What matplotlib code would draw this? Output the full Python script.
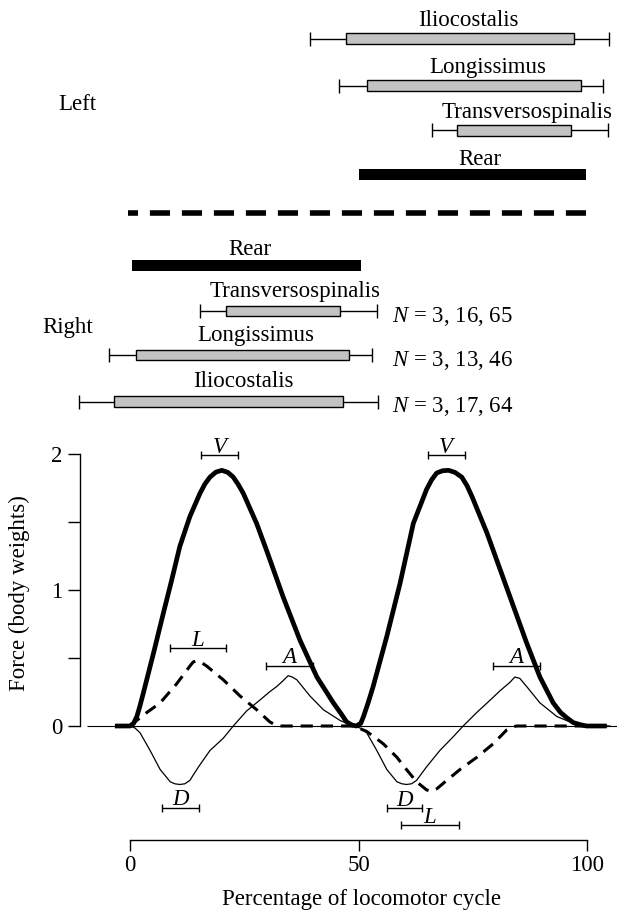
import matplotlib
matplotlib.use("Agg")
import matplotlib.pyplot as plt
import numpy as np

plt.rcParams['font.family'] = ['Liberation Serif', 'DejaVu Serif']
plt.rcParams['mathtext.fontset'] = 'custom'
plt.rcParams['mathtext.rm'] = 'Liberation Serif'
plt.rcParams['mathtext.it'] = 'Liberation Serif:italic'

FS = 16.5

# ---------------- data: force traces (percentage of cycle, body weights) ----
v_pct = [-3.3, 0, 0.8, 1.5, 2.2, 2.9, 5.1, 7.3, 9.1, 10.9, 13.1, 15.3, 16.4, 17.5, 18.8,
         20.1, 21.4, 22.6, 23.7, 24.8, 27.7, 29.9, 33.5, 37.2, 40.9, 44.5, 46.2, 47.4,
         48.5, 49.5, 50.5, 51.1, 52.1, 53.2, 56.2, 59.1, 62.0, 64.9, 66.0, 67.1, 68.4,
         69.7, 71.1, 72.6, 73.7, 74.8, 78.1, 81.0, 83.9, 86.8, 89.7, 92.6, 94.2, 95.6,
         97.0, 98.5, 99.9, 104.3]
v_force = [0, 0, 0.02, 0.07, 0.15, 0.24, 0.53, 0.83, 1.07, 1.32, 1.54, 1.71, 1.78, 1.83,
           1.867, 1.88, 1.865, 1.83, 1.775, 1.71, 1.49, 1.29, 0.95, 0.63, 0.36, 0.17,
           0.09, 0.03, 0.008, 0.0, 0.02, 0.07, 0.17, 0.29, 0.66, 1.05, 1.49, 1.74, 1.81,
           1.86, 1.877, 1.88, 1.865, 1.83, 1.77, 1.69, 1.42, 1.15, 0.88, 0.61, 0.36,
           0.17, 0.1, 0.06, 0.025, 0.01, 0, 0]

l_pct = [0, 2.9, 6.6, 10.2, 13.1, 13.8, 14.6, 15.5, 16.8, 20.4, 24.1, 27.7, 30.6, 31.8,
         32.8, 48.9, 51.8, 55.4, 58.4, 60.5, 62.7, 64.9, 66.0, 67.2, 68.6, 72.2, 75.9,
         79.5, 82.4, 83.6, 84.6, 105]
l_force = [0, 0.08, 0.17, 0.31, 0.44, 0.47, 0.48, 0.47, 0.44, 0.34, 0.22, 0.12, 0.03,
           0.008, 0, 0, -0.04, -0.13, -0.23, -0.32, -0.41, -0.47, -0.48, -0.46, -0.42,
           -0.32, -0.23, -0.13, -0.03, -0.008, 0, 0]

a_pct = [0, 1.1, 2.2, 4.4, 6.6, 8.8, 9.8, 10.9, 12.0, 13.1, 15.0, 17.5, 20.4, 22.6, 25.5,
         28.4, 30.5, 32.1, 33.4, 34.6, 35.5, 36.5, 39.4, 42.3, 46.0, 48.9, 50.4, 51.8,
         54.0, 56.2, 58.4, 59.5, 60.5, 61.6, 62.7, 64.9, 67.8, 70.7, 72.9, 75.9, 78.8,
         81.0, 83.1, 84.2, 85.3, 86.8, 89.7, 93.4, 97.7, 99.9, 105]
a_force = [0, -0.015, -0.05, -0.18, -0.32, -0.41, -0.425, -0.43, -0.425, -0.40, -0.30,
           -0.18, -0.09, 0, 0.11, 0.19, 0.25, 0.29, 0.33, 0.37, 0.36, 0.34, 0.22, 0.12,
           0.04, 0, -0.015, -0.05, -0.18, -0.32, -0.41, -0.425, -0.43, -0.425, -0.40,
           -0.30, -0.18, -0.08, 0, 0.10, 0.19, 0.26, 0.32, 0.36, 0.35, 0.29, 0.17, 0.07,
           0.01, 0, 0]

# peak timing bars on the force plot
peak_labels = ['V', 'L', 'A', 'D', 'V', 'A', 'D', 'L']
peak_lo = [15.5, 8.8, 29.8, 6.9, 65.1, 79.4, 56.2, 59.3]
peak_hi = [23.7, 21.0, 40.1, 15.0, 73.3, 89.7, 64.0, 71.9]
peak_force = [1.99, 0.57, 0.44, -0.60, 1.99, 0.44, -0.605, -0.73]

# ---------------- data: muscle activity (percentage of cycle) ----------------
left_names = ['Iliocostalis', 'Longissimus', 'Transversospinalis']
left_wlo = [39.4, 45.8, 66.0]
left_blo = [47.2, 51.8, 71.5]
left_bhi = [97.2, 98.7, 96.6]
left_whi = [104.9, 103.4, 104.7]
left_rear = [50.0, 99.8]

right_names = ['Transversospinalis', 'Longissimus', 'Iliocostalis']
right_wlo = [15.3, -4.6, -11.2]
right_blo = [20.9, 1.3, -3.4]
right_bhi = [46.0, 48.0, 46.7]
right_whi = [54.1, 52.9, 54.3]
right_rear = [0.4, 50.5]
right_n = ['3, 16, 65', '3, 13, 46', '3, 17, 64']

# ---------------- layout ----------------------------------------------------
W, H = 617, 913
XL = (-130 / 4.57, (617 - 130) / 4.57)
fig = plt.figure(figsize=(W / 100, H / 100), dpi=100)

TOP = 440
axt = fig.add_axes([0, 1 - TOP / H, 1, TOP / H])
axt.set_xlim(*XL)
axt.set_ylim(TOP, 0)
axt.axis('off')

left_rows = [38.7, 85.7, 130.3]
left_label_x = [74.0, 78.2, 86.9]
right_rows = [311, 355, 401.7]
right_label_x = [36.2, 27.6, 24.9]
rear_left_row, rear_right_row = 174.3, 265.7
box_h = 10.7
gray = '#c3c3c3'


def draw_box(rows, wlo, blo, bhi, whi):
    rows = np.array(rows)
    blo = np.array(blo); bhi = np.array(bhi)
    c = (blo + bhi) / 2
    axt.errorbar(c, rows, xerr=[c - np.array(wlo), np.array(whi) - c], fmt='none',
                 ecolor='black', elinewidth=1.0, capsize=4.8, capthick=1.0, zorder=1)
    axt.barh(rows, bhi - blo, left=blo, height=box_h, color=gray,
             edgecolor='black', linewidth=1.0, zorder=2)


draw_box(left_rows, left_wlo, left_blo, left_bhi, left_whi)
draw_box(right_rows, right_wlo, right_blo, right_bhi, right_whi)
for name, row, lx in zip(left_names, left_rows, left_label_x):
    axt.text(lx, row - 12.7, name, ha='center', va='baseline', fontsize=FS)
for name, row, lx, n in zip(right_names, right_rows, right_label_x, right_n):
    axt.text(lx, row - 14.3, name, ha='center', va='baseline', fontsize=FS)
    axt.text(57.3, row + 10.5, r'$N$ = ' + n, ha='left', va='baseline', fontsize=FS)

axt.barh([rear_left_row], [left_rear[1] - left_rear[0]], left=left_rear[0],
         height=box_h, color='black', linewidth=0)
axt.barh([rear_right_row], [right_rear[1] - right_rear[0]], left=right_rear[0],
         height=box_h, color='black', linewidth=0)
axt.text(76.5, rear_left_row - 9.3, 'Rear', ha='center', va='baseline', fontsize=FS)
axt.text(26.3, rear_right_row - 10.7, 'Rear', ha='center', va='baseline', fontsize=FS)

axt.plot([-0.4, 99.8], [213, 213], color='black', lw=4.0,
         linestyle=(1.82, (3.62, 2.14)), dash_capstyle='butt')

axt.text(-11.5, 110, 'Left', ha='center', va='baseline', fontsize=FS)
axt.text(-13.6, 333, 'Right', ha='center', va='baseline', fontsize=FS)

# ---------------- force axes ------------------------------------------------
ax = fig.add_axes([0, 0, 1, 1 - TOP / H])
ax.set_xlim(*XL)
ax.set_ylim((726 - 913) / 136, (726 - TOP) / 136)
ax.patch.set_alpha(0)

ax.hlines(0, -9.4, XL[1], color='black', lw=0.8, zorder=1)
ax.plot(a_pct, a_force, color='black', lw=0.9, solid_joinstyle='round', zorder=2)
ax.plot(l_pct, l_force, color='black', lw=2.2, linestyle=(0, (4.0, 2.6)),
        dash_joinstyle='round', zorder=3)
ax.plot(v_pct, v_force, color='black', lw=3.4, solid_joinstyle='round',
        solid_capstyle='butt', zorder=4)

lo = np.array(peak_lo); hi = np.array(peak_hi)
ax.errorbar((lo + hi) / 2, peak_force, xerr=(hi - lo) / 2, fmt='none', ecolor='black',
            elinewidth=1.0, capsize=2.8, capthick=1.0, zorder=5)
for lab, c, y in zip(peak_labels, (lo + hi) / 2, peak_force):
    ax.annotate(lab, (c, y), xytext=(0, 2), textcoords='offset points', ha='center',
                va='baseline', fontsize=FS, fontstyle='italic')

for s in ['top', 'right']:
    ax.spines[s].set_visible(False)
ax.spines['left'].set_position(('data', -11))
ax.spines['left'].set_bounds(0, 2)
ax.spines['bottom'].set_position(('data', (726 - 839.5) / 136))
ax.spines['bottom'].set_bounds(0, 100)
for s in ['left', 'bottom']:
    ax.spines[s].set_linewidth(1.0)

ax.set_yticks([0, 0.5, 1, 1.5, 2])
ax.set_yticklabels(['0', '', '1', '', '2'])
ax.set_xticks([0, 50, 100])
ax.set_xticklabels(['0', '50', '100'])
ax.tick_params(axis='y', direction='out', length=8.6, width=1.0, pad=4, labelsize=FS)
ax.tick_params(axis='x', direction='out', length=7.9, width=1.0, pad=3, labelsize=FS)

ax.set_ylabel('Force (body weights)', fontsize=FS)
ax.yaxis.set_label_coords(0.048, (913 - 593) / 473)
ax.set_xlabel('Percentage of locomotor cycle', fontsize=FS)
ax.xaxis.set_label_coords(362 / 617, 0.05)

fig.savefig('out.png', dpi=100)
